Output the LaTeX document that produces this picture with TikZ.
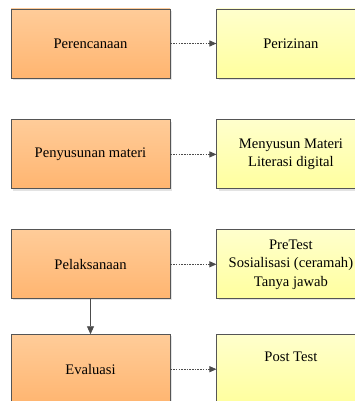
\documentclass[tikz,border=0pt]{standalone}
\usepackage{fontspec}
\setmainfont{Liberation Serif}
\usetikzlibrary{positioning,shadows,arrows.meta}

\definecolor{boxline}{HTML}{555555}
\definecolor{orangetop}{HTML}{FFCC99}
\definecolor{orangebot}{HTML}{FFB570}
\definecolor{yellowtop}{HTML}{FFFFCC}
\definecolor{yellowbot}{HTML}{FFFF9E}

\tikzset{
  stage/.style={draw=boxline,line width=0.9pt,top color=orangetop,bottom color=orangebot,
    minimum width=159pt,minimum height=69pt,inner sep=2pt,align=center,
    drop shadow={opacity=0.22,shadow xshift=1.6pt,shadow yshift=-1.6pt}},
  task/.style={draw=boxline,line width=0.9pt,top color=yellowtop,bottom color=yellowbot,
    minimum width=148pt,minimum height=69pt,inner sep=2pt,align=center,
    drop shadow={opacity=0.22,shadow xshift=1.6pt,shadow yshift=-1.6pt}},
  link/.style={draw=boxline!90!black,line width=0.8pt,dash pattern=on 1.6pt off 1.1pt,
    -{Triangle[length=7pt,width=6pt]}},
  flow/.style={draw=boxline!90!black,line width=0.9pt,-{Triangle[length=8pt,width=7pt]}}
}

\begin{document}
\begin{tikzpicture}[x=1pt,y=1pt,font=\fontsize{14.6}{18.5}\selectfont]
  \useasboundingbox (0,0) rectangle (354,-401);

  % ---------- left column: stages ----------
  \node[stage] (plan) at (90.5,-43.5) {Perencanaan};
  \node[stage,below=41pt of plan] (prep) {Penyusunan materi};
  \node[stage,below=40pt of prep] (exec) {Pelaksanaan};
  \node[stage,below=35pt of exec] (eval) {Evaluasi};

  % ---------- right column: activities ----------
  \node[task,right=46pt of plan] (permit) {Perizinan};
  \node[task,right=46pt of prep] (material) {Menyusun Materi\\Literasi digital};
  \node[task,right=46pt of exec] (session) {PreTest\\Sosialisasi (ceramah)\\Tanya jawab};
  \node[task,right=46pt of eval] (post) {};
  \node[below=14pt of post.north] (posttext) {Post Test};

  % connectors
  \draw[link] (plan) -- (permit);
  \draw[link] (prep) -- (material);
  \draw[link] (exec) -- (session);
  \draw[link] (eval) -- (post);
  \draw[flow] (exec) -- (eval);

\end{tikzpicture}
\end{document}
